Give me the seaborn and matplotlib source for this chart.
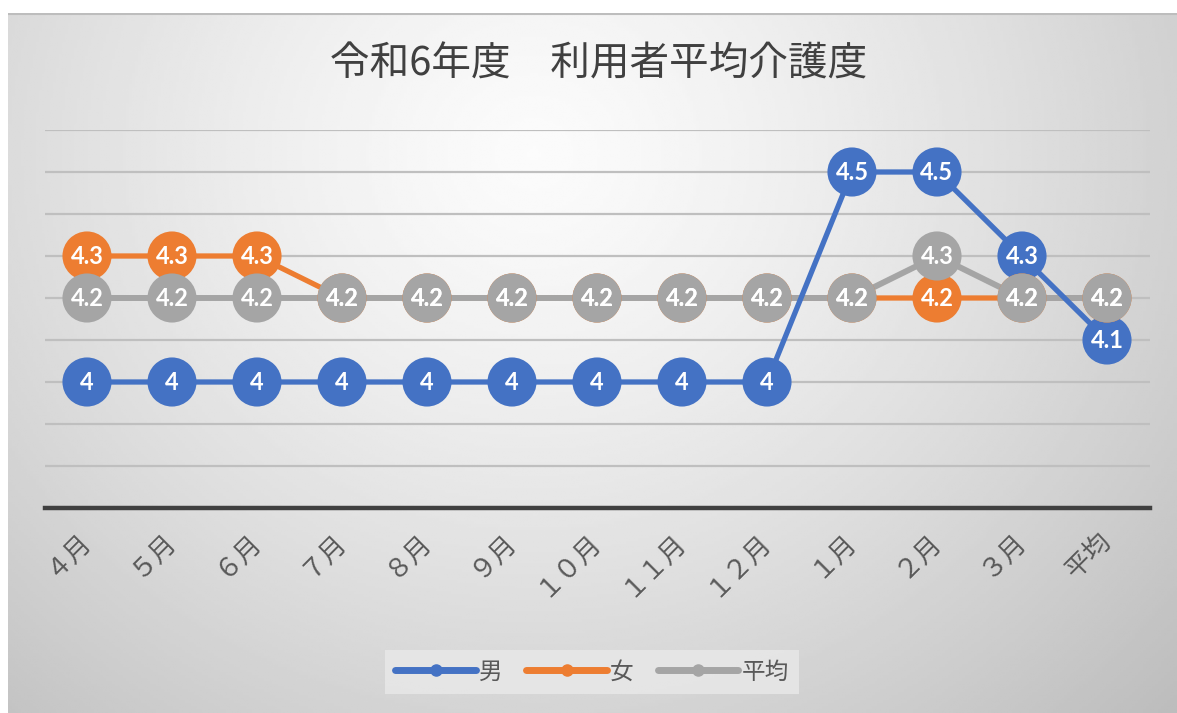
"""令和6年度 利用者平均介護度 - line chart recreation."""

import numpy as np
import pandas as pd
import matplotlib
matplotlib.use("Agg")
import matplotlib.pyplot as plt
import seaborn as sns


MONTHS = ["４月", "５月", "６月", "７月", "８月", "９月", "１０月",
          "１１月", "１２月", "１月", "２月", "３月", "平均"]
MALE = [4, 4, 4, 4, 4, 4, 4, 4, 4, 4.5, 4.5, 4.3, 4.1]
FEMALE = [4.3, 4.3, 4.3, 4.2, 4.2, 4.2, 4.2, 4.2, 4.2, 4.2, 4.2, 4.2, 4.2]
AVERAGE = [4.2, 4.2, 4.2, 4.2, 4.2, 4.2, 4.2, 4.2, 4.2, 4.2, 4.3, 4.2, 4.2]
SERIES = ["男", "女", "平均"]
COLORS = {"男": "#4472C4", "女": "#ED7D31", "平均": "#A5A5A5"}

sns.set_theme(style="white")
plt.rcParams["font.family"] = ["Noto Sans CJK JP", "DejaVu Sans"]

df = pd.DataFrame({"x": np.arange(len(MONTHS)), "男": MALE, "女": FEMALE, "平均": AVERAGE})

W, H = 1177, 713
fig = plt.figure(figsize=(W / 100, H / 100), dpi=100, facecolor="white")

# radial-ish gradient background of the chart area
bg = fig.add_axes([8 / W, 0, 1 - 8 / W, 1 - 13 / H], zorder=-10)
gx, gy = np.meshgrid(np.linspace(0, 1, 400), np.linspace(0, 1, 250))
r = np.sqrt(((gx - 0.45) / 0.62) ** 2 + ((gy - 0.2) / 0.95) ** 2)
shade = np.clip(0.985 - 0.19 * r ** 1.3, 0.74, 1.0)
bg.imshow(shade, cmap="gray", vmin=0, vmax=1, aspect="auto", extent=[0, 1, 1, 0])
bg.plot([0, 1], [0.001, 0.001], color="#bdbdbd", lw=1.5)
bg.set_xlim(0, 1)
bg.set_ylim(1, 0)
bg.axis("off")

ax = fig.add_axes([44.5 / W, 1 - 508 / H, 1105 / W, 378 / H])
ax.patch.set_alpha(0)

# line stacking: orange under grey, blue on top; markers: grey on top
line_z = {"女": 3, "平均": 4, "男": 5}
line_w = {"女": 3.8, "平均": 4.3, "男": 3.8}
mark_z = {"男": 6, "女": 7, "平均": 8}
for name in SERIES:
    sns.lineplot(data=df, x="x", y=name, ax=ax, color=COLORS[name], lw=line_w[name],
                 zorder=line_z[name], legend=False)
    sns.scatterplot(data=df, x="x", y=name, ax=ax, color=COLORS[name], s=1250,
                    edgecolor="none", zorder=mark_z[name], legend=False)
    for xi, v in zip(df["x"], df[name]):
        ax.text(xi, v, f"{v:g}", color="white", fontsize=17, fontweight="bold",
                family=["Lato", "DejaVu Sans"], ha="center", va="center", zorder=20)

ax.set_xlim(-0.5, len(MONTHS) - 0.5)
ax.set_ylim(3.7, 4.6)
ax.set_yticks(np.arange(3.7, 4.61, 0.1))
ax.set_yticklabels([])
ax.tick_params(axis="y", length=0)
ax.grid(axis="y", color="#bfbfbf", lw=1.6)
ax.set_axisbelow(True)
ax.set_xticks(df["x"])
ax.set_xticklabels(MONTHS, rotation=45, ha="right", va="center", rotation_mode="anchor",
                   fontsize=19, color="#595959")
ax.tick_params(axis="x", length=0, pad=21)
ax.set_xlabel("")
ax.set_ylabel("")
for side in ["top", "left", "right"]:
    ax.spines[side].set_visible(False)
ax.spines["bottom"].set_color("#404040")
ax.spines["bottom"].set_linewidth(3.2)
ax.spines["bottom"].set_zorder(2)

fig.text(0.509, 0.909, "令和6年度　利用者平均介護度", ha="center", va="center",
         fontsize=28.5, color="#404040")

handles = [plt.Line2D([], [], color=COLORS[n], lw=5, marker="o", markersize=8,
                      solid_capstyle="round") for n in SERIES]
leg = fig.legend(handles, SERIES, loc="center", bbox_to_anchor=(592 / W, 1 - 672 / H),
                 ncol=3, frameon=True, fontsize=17, handlelength=3.4, handletextpad=0.15,
                 columnspacing=1.0, borderpad=0.45, fancybox=False)
leg.get_frame().set_facecolor("#e9e9e9")
leg.get_frame().set_edgecolor("none")
for t in leg.get_texts():
    t.set_color("#595959")

fig.savefig("out.png", dpi=100, facecolor="white")
